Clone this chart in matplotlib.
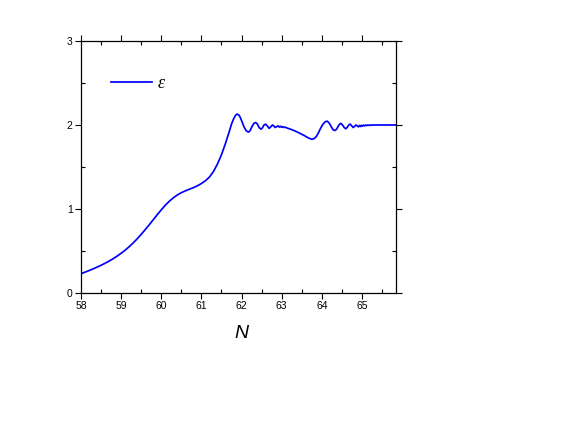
import matplotlib
matplotlib.use("Agg")
import matplotlib.pyplot as plt
from matplotlib.ticker import MultipleLocator

N_vals = [58.0, 58.1, 58.2, 58.3, 58.4, 58.5, 58.6, 58.7, 58.8, 58.9,
          59.0, 59.1, 59.2, 59.3, 59.4, 59.5, 59.6, 59.7, 59.8, 59.9,
          60.0, 60.1, 60.2, 60.3, 60.4, 60.5, 60.6, 60.7, 60.8, 60.9,
          61.0, 61.1, 61.2, 61.3, 61.4, 61.5, 61.6, 61.7, 61.75, 61.8,
          61.85, 61.89, 61.93, 61.97, 62.02, 62.07, 62.12, 62.17, 62.21, 62.26,
          62.31, 62.35, 62.39, 62.44, 62.485, 62.52, 62.56, 62.60, 62.64, 62.69,
          62.73, 62.775, 62.81, 62.84, 62.875, 62.91, 62.94, 62.97, 63.0, 63.03,
          63.06, 63.09, 63.13, 63.25, 63.375, 63.48, 63.58, 63.67, 63.75, 63.80,
          63.86, 63.91, 63.97, 64.03, 64.09, 64.14, 64.19, 64.24, 64.29, 64.33,
          64.37, 64.42, 64.47, 64.51, 64.56, 64.60, 64.64, 64.68, 64.71, 64.745,
          64.785, 64.82, 64.855, 64.885, 64.915, 64.945, 64.97, 64.995, 65.02, 65.045,
          65.07, 65.095, 65.12, 65.145, 65.17, 65.195, 65.22, 65.245, 65.27, 65.30,
          65.40, 65.85]
eps_vals = [0.230, 0.248, 0.267, 0.287, 0.308, 0.330, 0.354, 0.380, 0.408, 0.439,
            0.473, 0.510, 0.551, 0.596, 0.645, 0.698, 0.754, 0.812, 0.872, 0.932,
            0.990, 1.044, 1.092, 1.133, 1.167, 1.194, 1.216, 1.235, 1.254, 1.276,
            1.303, 1.336, 1.38, 1.445, 1.535, 1.645, 1.78, 1.93, 2.01, 2.07,
            2.115, 2.13, 2.12, 2.09, 2.03, 1.97, 1.93, 1.915, 1.93, 1.98,
            2.02, 2.03, 2.015, 1.97, 1.95, 1.965, 2.0, 2.01, 1.99, 1.96,
            1.98, 2.0, 1.985, 1.97, 1.98, 1.99, 1.975, 1.985, 1.972, 1.98,
            1.97, 1.975, 1.965, 1.945, 1.92, 1.895, 1.87, 1.845, 1.83, 1.835,
            1.86, 1.90, 1.96, 2.01, 2.04, 2.045, 2.02, 1.975, 1.94, 1.935,
            1.95, 1.995, 2.02, 2.005, 1.97, 1.955, 1.975, 2.005, 2.01, 1.99,
            1.97, 1.985, 2.0, 1.99, 1.978, 1.995, 1.982, 1.997, 1.986, 1.998,
            1.99, 1.999, 1.993, 2.0, 1.995, 2.0, 1.997, 2.0, 1.998, 2.0,
            2.0, 2.0]

x_ticks = [58, 59, 60, 61, 62, 63, 64, 65]
y_ticks = [0, 1, 2, 3]
x_label = "N"
series_label = "ε"

fig = plt.figure(figsize=(5.75, 4.41), dpi=100)
ax = fig.add_axes([81/575, 1-293/441, 315/575, 252/441])
ax.plot(N_vals, eps_vals, color=(0, 0, 1), lw=1.25, label=series_label)
ax.set_xlim(58, 65.85)
ax.set_ylim(0, 3)
ax.set_xticks(x_ticks)
ax.set_yticks(y_ticks)
ax.xaxis.set_minor_locator(MultipleLocator(0.5))
ax.yaxis.set_minor_locator(MultipleLocator(0.5))
for lab in ax.get_xticklabels() + ax.get_yticklabels():
    lab.set_family("Liberation Sans")
    lab.set_fontsize(7.5)
ax.tick_params(which="major", direction="out", length=4, width=0.8, pad=2)
ax.tick_params(which="minor", direction="in", length=3, width=0.8)
ax.tick_params(which="both", top=True, right=True)
for s in ax.spines.values():
    s.set_linewidth(0.9)

fig.text(241/575, 1-333/441, x_label, family="Liberation Sans", style="italic",
         fontsize=14, ha="center", va="center")

leg = ax.legend(loc="center left", bbox_to_anchor=(0.094, 0.83), frameon=False,
                borderpad=0, borderaxespad=0, handlelength=2.3, handletextpad=0.3,
                prop={"family": "Liberation Serif", "style": "italic", "size": 13})

fig.savefig("out.png", dpi=100)
